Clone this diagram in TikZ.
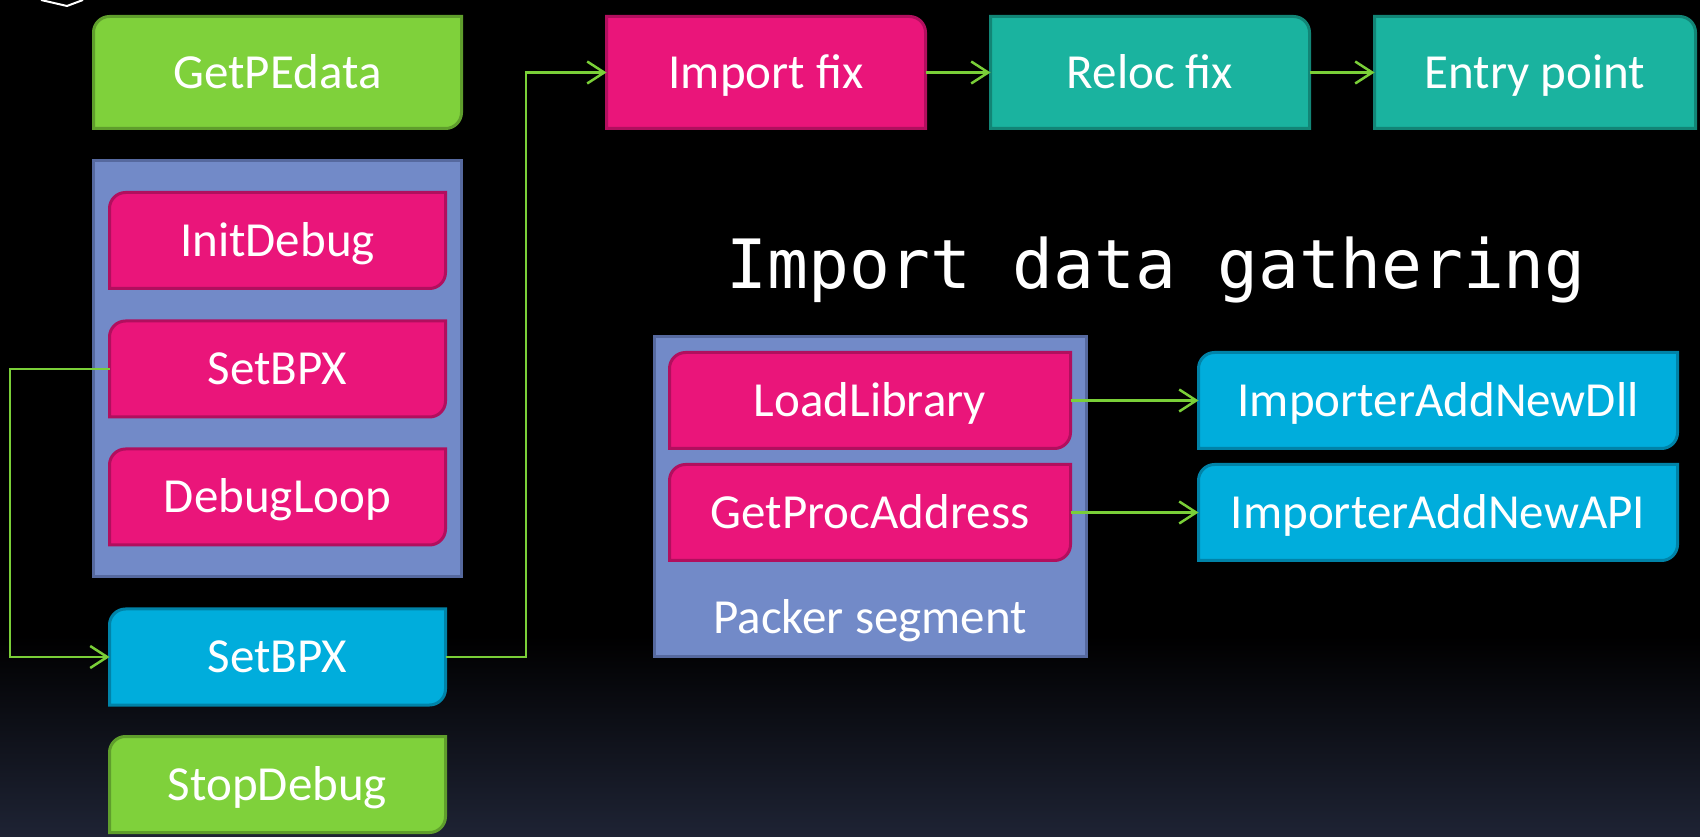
\documentclass[tikz,border=0pt]{standalone}
\usepackage{fontspec}
\setmainfont{Carlito}
\newfontfamily\titlefont{DejaVu Sans Mono}
\usetikzlibrary{arrows.meta}
\definecolor{grnF}{HTML}{7FD13B}
\definecolor{grnD}{HTML}{5F9E2C}
\definecolor{pnkF}{HTML}{EA157A}
\definecolor{pnkD}{HTML}{B10F5E}
\definecolor{cynF}{HTML}{00ADDC}
\definecolor{cynD}{HTML}{0083A8}
\definecolor{tealF}{HTML}{1AB39F}
\definecolor{tealD}{HTML}{128576}
\definecolor{contF}{HTML}{728AC8}
\definecolor{contD}{HTML}{56699F}
\definecolor{connC}{HTML}{7ACF38}
\definecolor{bgbot}{HTML}{1E2334}
\pgfdeclarelayer{shade}
\pgfdeclarelayer{cont}
\pgfdeclarelayer{boxes}
\pgfsetlayers{shade,cont,boxes,main}
\newcommand\diagshape[3]{%
  \begin{pgfonlayer}{boxes}
  \draw[fill=#2,draw=#3,line width=3pt,line join=miter]
    (#1.south west) -- ([yshift=-16pt]#1.north west)
    arc[start angle=180,end angle=90,radius=16pt] -- (#1.north east)
    -- ([yshift=16pt]#1.south east)
    arc[start angle=0,end angle=-90,radius=16pt] -- cycle;
  \end{pgfonlayer}}
\newcommand\trshape[3]{%
  \begin{pgfonlayer}{boxes}
  \draw[fill=#2,draw=#3,line width=3pt,line join=miter]
    (#1.south west) -- (#1.north west) -- ([xshift=-16pt]#1.north east)
    arc[start angle=90,end angle=0,radius=16pt] -- (#1.south east) -- cycle;
  \end{pgfonlayer}}
\tikzset{
  boxtxt/.style={inner sep=0pt, outer sep=0pt, text=white,
    font=\fontsize{49}{58}\selectfont, text height=40pt, text depth=8.5pt,
    minimum height=96pt},
  colbox/.style={boxtxt, minimum width=336pt},
  topbox/.style={boxtxt, minimum height=112pt},
  contbox/.style={draw=contD, fill=contF, line width=3pt, inner sep=0pt, outer sep=0pt},
  conn/.style={draw=connC, line width=2.5pt, -{Straight Barb[length=17pt,width=22pt]}},
}
\begin{document}
\begin{tikzpicture}[x=1pt,y=1pt]
\useasboundingbox (0,0) rectangle (1700,836);
\begin{pgfonlayer}{shade}
\fill[black] (0,0) rectangle (1700,836);
\shade[top color=black, bottom color=bgbot] (0,0) rectangle (1700,200);
\draw[white, line width=2pt, line join=round] (41,836) -- (67,830) -- (83,836);
\end{pgfonlayer}

% containers
\begin{pgfonlayer}{cont}
\node[contbox, minimum width=368pt, minimum height=416pt] (leftc) at (277.5,467.5) {};
\node[contbox, minimum width=432pt, minimum height=320pt] (packc) at (870,339.5) {};
\end{pgfonlayer}

% left column
\node[topbox, minimum width=368pt] (getpe) at (277.5,763.5) {GetPEdata};
\node[colbox] (initdbg) at (277.5,595.5) {InitDebug};
\node[colbox] (setbpxa) at (277.5,467) {SetBPX};
\node[colbox] (dbgloop) at (277.5,339) {DebugLoop};
\node[colbox] (setbpxb) at (277.5,179) {SetBPX};
\node[colbox] (stopdbg) at (277.5,51.5) {StopDebug};
\diagshape{getpe}{grnF}{grnD}
\diagshape{initdbg}{pnkF}{pnkD}
\diagshape{setbpxa}{pnkF}{pnkD}
\diagshape{dbgloop}{pnkF}{pnkD}
\diagshape{setbpxb}{cynF}{cynD}
\diagshape{stopdbg}{grnF}{grnD}

% top row
\node[topbox, minimum width=319pt] (importfix) at (766,763.5) {Import fix};
\node[topbox, minimum width=319pt] (relocfix) at (1150,763.5) {Reloc fix};
\node[topbox, minimum width=321pt] (entrypt) at (1535,763.5) {Entry point};
\trshape{importfix}{pnkF}{pnkD}
\trshape{relocfix}{tealF}{tealD}
\trshape{entrypt}{tealF}{tealD}

% title
\node[anchor=base west, inner sep=0pt, text=white,
  font=\titlefont\fontsize{68}{80}\selectfont] (title) at (726,547) {Import data gathering};

% packer segment
\node[boxtxt, minimum width=401pt] (loadlib) at (870,435.5) {LoadLibrary};
\node[boxtxt, minimum width=401pt] (getproc) at (870,323.5) {GetProcAddress};
\node[anchor=base, inner sep=0pt, text=white, font=\fontsize{49}{58}\selectfont] (packlbl) at (870,203) {Packer segment};
\diagshape{loadlib}{pnkF}{pnkD}
\diagshape{getproc}{pnkF}{pnkD}

\node[boxtxt, minimum width=479pt] (impdll) at (1438,435.5) {ImporterAddNewDll};
\node[boxtxt, minimum width=479pt] (impapi) at (1438,323.5) {ImporterAddNewAPI};
\diagshape{impdll}{cynF}{cynD}
\diagshape{impapi}{cynF}{cynD}

% connectors
\coordinate (lx) at (10,0);
\coordinate (rx) at (526,0);
\draw[conn] (setbpxa.west) -- (setbpxa.west -| lx) -- (setbpxb.west -| lx) -- (setbpxb.west);
\draw[conn] (setbpxb.east) -- (setbpxb.east -| rx) -- (importfix.west -| rx) -- (importfix.west);
\draw[conn] (importfix.east) -- (relocfix.west);
\draw[conn] (relocfix.east) -- (entrypt.west);
\draw[conn] (loadlib.east) -- (impdll.west);
\draw[conn] (getproc.east) -- (impapi.west);
\end{tikzpicture}
\end{document}
